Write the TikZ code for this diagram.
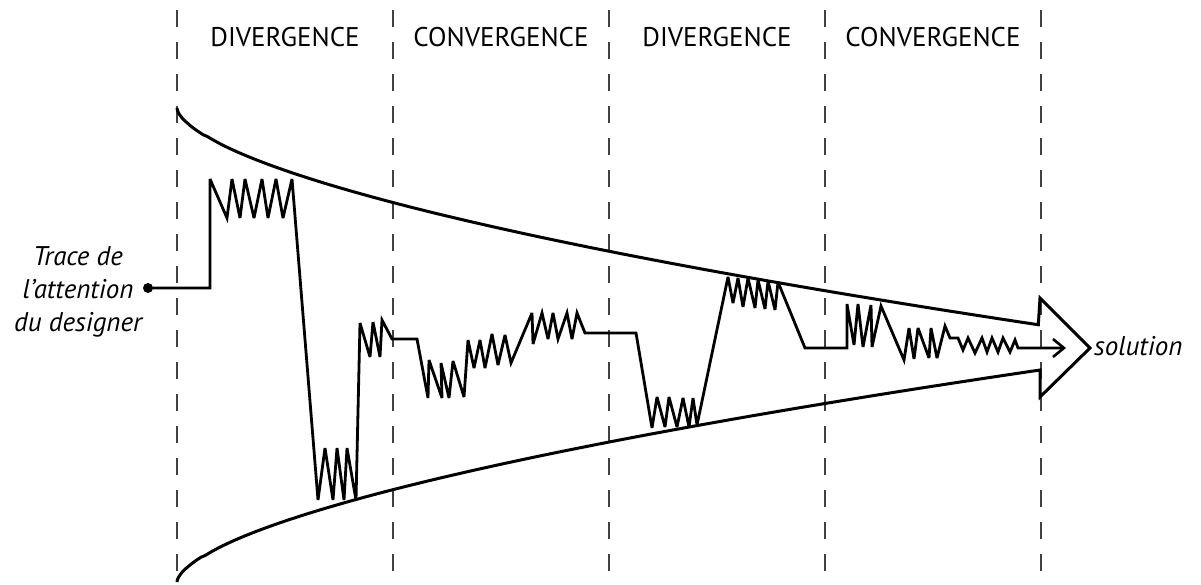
\documentclass[tikz,border=0pt]{standalone}
\usepackage{fontspec}
\setmainfont{PT Sans}
\usetikzlibrary{arrows.meta}
\begin{document}
\begin{tikzpicture}[x=1pt,y=-1pt,
  phase/.style={font=\fontsize{27}{30}\selectfont, inner sep=0pt, anchor=base},
  lbl/.style={font=\fontsize{27}{33}\selectfont\itshape, inner sep=0pt},
  sep/.style={draw=black!75, line width=1.2pt, dash pattern=on 17pt off 15pt},
  funnel/.style={draw=black, line width=3pt, line join=miter},
  trace/.style={draw=black, line width=2.8pt, line join=miter, miter limit=4},
  dot/.style={circle, fill=black, inner sep=0pt, minimum size=10pt}
]
\useasboundingbox (0,0) rectangle (1201,584);
% separators
\foreach \xx/\nm in {177/s1,393/s2,609/s3,825/s4,1041/s5}{
  \coordinate (\nm top) at (\xx,10);
  \coordinate (\nm bot) at (\xx,584);
  \draw[sep] (\nm top) -- (\nm bot);
}
% phase labels
\node[phase] (p1) at (285,46) {DIVERGENCE};
\node[phase] (p2) at (501,46) {CONVERGENCE};
\node[phase] (p3) at (717,46) {DIVERGENCE};
\node[phase] (p4) at (933,46) {CONVERGENCE};
% funnel with arrow head
\coordinate (ftop) at (177,108);
\coordinate (fbot) at (177,582);
\coordinate (ahtop) at (1040,298);
\coordinate (ahtip) at (1090,348);
\coordinate (ahbot) at (1040,397);
\draw[funnel] (ftop) -- plot[domain=0.002:1,samples=140] ({177+863*(\x)^1.6667},{108+217*\x})
  -- (ahtop) -- (ahtip) -- (ahbot) -- (1040,370)
  -- plot[domain=1:0.002,samples=140] ({177+863*(\x)^1.6667},{582-212*\x}) -- (fbot);
% labels
\node[lbl, align=center] (trace) at (78,292) {Trace de\\l’attention\\du designer};
\node[lbl, anchor=west] (sol) at (1094,346) {solution};
% trace
\node[dot] (start) at (148,288) {};
\coordinate (tend) at (1066,348);
\draw[trace, -{Straight Barb[length=11pt,width=18pt,line width=2.6pt]}] (start.center) -- (210,288) -- (210,179)
 -- (227,218) -- (232,179) -- (240,218) -- (245,179) -- (254,218) -- (262,179) -- (268,218) -- (276,179) -- (283,218) -- (292,179)
 -- (318,500) -- (325,448) -- (333,500) -- (337,448) -- (344,500) -- (347,448) -- (356,500)
 -- (360,323) -- (370,357) -- (373,322) -- (380,357) -- (382,320) -- (392,339) -- (417,339)
 -- (428,398) -- (429,360) -- (442,398) -- (441,363) -- (449,398) -- (453,361) -- (464,397)
 -- (468,340) -- (474,368) -- (480,340) -- (485,368) -- (492,334) -- (498,365) -- (505,335) -- (511,363)
 -- (532,313) -- (533,344) -- (542,313) -- (548,339) -- (553,313) -- (558,339) -- (567,313) -- (572,339) -- (577,313)
 -- (585,333) -- (636,333)
 -- (652,428) -- (657,397) -- (665,427) -- (669,397) -- (677,427) -- (683,398) -- (689,427) -- (693,398) -- (697,425)
 -- (728,277) -- (733,303) -- (738,278) -- (743,307) -- (748,278) -- (755,308) -- (758,280) -- (765,309) -- (768,281) -- (775,310) -- (778,282)
 -- (805,348) -- (847,348)
 -- (847,304) -- (854,345) -- (858,304) -- (863,347) -- (871,305) -- (872,347) -- (881,306)
 -- (904,360) -- (909,328) -- (914,359) -- (918,328) -- (929,358) -- (931,328) -- (937,358) -- (945,326)
 -- (950,338) -- (958,338) -- (963,350) -- (968,338) -- (975,353) -- (982,338) -- (987,352) -- (992,338) -- (998,352) -- (1003,338) -- (1010,352) -- (1015,340) -- (1018,348)
 -- (tend);
\end{tikzpicture}
\end{document}
